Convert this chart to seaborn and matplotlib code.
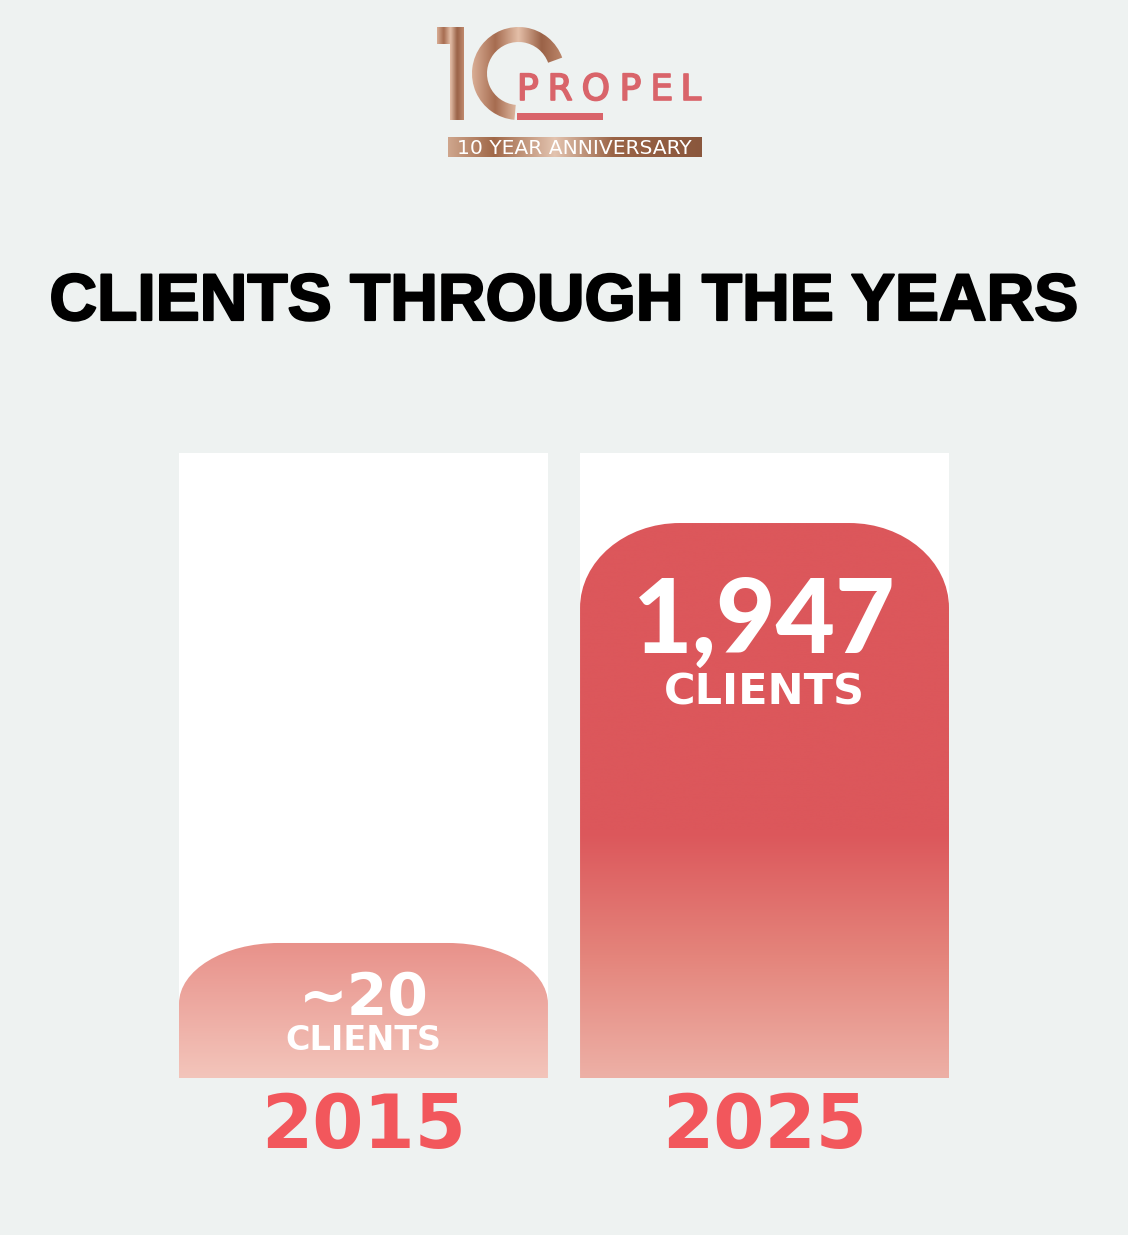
import numpy as np
import pandas as pd
import matplotlib
matplotlib.use("Agg")
import matplotlib.pyplot as plt
import matplotlib.patheffects as pe
import seaborn as sns
from matplotlib.path import Path
from matplotlib.patches import PathPatch, Rectangle, Wedge, Polygon
from matplotlib.colors import LinearSegmentedColormap
from matplotlib.textpath import TextPath
from matplotlib.font_manager import FontProperties

# chart data
years = ["2015", "2025"]
clients = [20, 1947]
value_labels = ["~20", "1,947"]
unit_label = "CLIENTS"
title = "CLIENTS THROUGH THE YEARS"

# per-bar label styling (small bar gets smaller text)
num_size = [42, 74]
num_family = [["DejaVu Sans"], ["Lato", "DejaVu Sans"]]
unit_size = [24, 31]
num_offset = [72, 130]
unit_offset = [107, 181]

W, H = 1128, 1235
BG = "#EEF2F1"
YEAR_RED = "#F2575C"
LOGO_RED = "#D9646A"

sns.set_theme(style="white")
plt.rcParams["font.family"] = ["DejaVu Sans"]

fig = plt.figure(figsize=(W / 100, H / 100), dpi=100)
fig.patch.set_facecolor(BG)

# main bar axes, log scale so ~20 and 1,947 both stay visible
ax = fig.add_axes([179 / W, (H - 1078) / H, 770 / W, 625 / H])
ax.set_yscale("log")
df = pd.DataFrame({"year": years, "clients": clients})
sns.barplot(data=df, x="year", y="clients", order=years, width=0.92,
            color="#DC575B", errorbar=None, ax=ax)
ax.set_xlim(-0.46, 1.46)
ax.set_ylim(4.59, 4177)
ax.set_axis_off()
fig.canvas.draw()

ax_bb = ax.get_window_extent()
col_top = H - ax_bb.y1
col_bot = H - ax_bb.y0
bars = []
for p in ax.patches:
    bb = p.get_window_extent()
    bars.append((bb.x0, bb.x1, H - bb.y1))
    p.set_visible(False)

# overlay in pixel coords (y down) for the styled shapes
ov = fig.add_axes([0, 0, 1, 1], zorder=5)
ov.patch.set_alpha(0)


def grad_fill(x0, x1, yt, yb, cmap, clip, horizontal=False):
    g = np.linspace(0, 1, 256)
    g = g.reshape(1, -1) if horizontal else g.reshape(-1, 1)
    im = ov.imshow(g, cmap=cmap, aspect="auto", extent=(x0, x1, yb, yt),
                   origin="upper", interpolation="bicubic", zorder=3)
    im.set_clip_path(clip)


def top_rounded(x0, x1, yt, yb, rx, ry):
    k = 0.5523
    verts = [(x0, yb), (x0, yt + ry),
             (x0, yt + ry - k * ry), (x0 + rx - k * rx, yt), (x0 + rx, yt),
             (x1 - rx, yt),
             (x1 - rx + k * rx, yt), (x1, yt + ry - k * ry), (x1, yt + ry),
             (x1, yb), (x0, yb)]
    codes = [Path.MOVETO, Path.LINETO,
             Path.CURVE4, Path.CURVE4, Path.CURVE4,
             Path.LINETO,
             Path.CURVE4, Path.CURVE4, Path.CURVE4,
             Path.LINETO, Path.CLOSEPOLY]
    return Path(verts, codes)


cmap_big = LinearSegmentedColormap.from_list(
    "big", [(0, "#DC575B"), (0.56, "#DC575B"), (0.78, "#E4847B"), (1, "#EDB0A6")])
cmap_small = LinearSegmentedColormap.from_list(
    "small", [(0, "#E8918A"), (1, "#F3C5BB")])

for i, (x0, x1, yt) in enumerate(bars):
    ov.add_patch(Rectangle((x0, col_top), x1 - x0, col_bot - col_top,
                           facecolor="white", edgecolor="none", zorder=1))
    h = col_bot - yt
    shape = PathPatch(top_rounded(x0, x1, yt, col_bot, 100, min(85, 0.45 * h)),
                      facecolor="none", edgecolor="none", transform=ov.transData)
    ov.add_patch(shape)
    cmap = cmap_big if clients[i] == max(clients) else cmap_small
    grad_fill(x0, x1, yt, col_bot, cmap, shape)

    cx = (x0 + x1) / 2
    ov.text(cx, yt + num_offset[i], value_labels[i], color="white",
            fontsize=num_size[i], fontweight="black", family=num_family[i],
            ha="center", va="baseline", zorder=6)
    ov.text(cx, yt + unit_offset[i], unit_label, color="white",
            fontsize=unit_size[i], fontweight="bold", ha="center",
            va="baseline", zorder=6)
    ov.text(cx, 1148, years[i], color=YEAR_RED, fontsize=53,
            fontweight="bold", ha="center", va="baseline", zorder=6)

# title
ov.text(W / 2, 320, title, color="black", fontsize=47.5, fontweight="bold",
        family=["Liberation Sans", "DejaVu Sans"], ha="center", va="baseline",
        path_effects=[pe.withStroke(linewidth=1.6, foreground="black")])

# logo
copper = LinearSegmentedColormap.from_list(
    "copper", ["#D9AE95", "#A66C50", "#E4BFA8", "#9A6247", "#C08A6E"])
one = Polygon([(437, 27), (464, 27), (464, 120), (450, 120), (450, 44), (437, 44)],
              closed=True, facecolor="none", edgecolor="none", transform=ov.transData)
ov.add_patch(one)
grad_fill(437, 464, 27, 120, copper, one, horizontal=True)
zero = Wedge((518.5, 73.5), 46.5, 95, 340, width=15, facecolor="none",
             edgecolor="none", transform=ov.transData)
ov.add_patch(zero)
grad_fill(472, 565, 27, 120, copper, zero, horizontal=True)

# PROPEL with tracking across its width
prop = FontProperties(family=["DejaVu Sans"], weight="normal", size=26)
word = "PROPEL"
fs_px = 26 * 100 / 72
widths = [TextPath((0, 0), ch, size=fs_px, prop=prop).get_extents().width for ch in word]
gap = (697 - 517 - sum(widths)) / (len(word) - 1)
xx = 517
for ch, w in zip(word, widths):
    ov.text(xx, 100, ch, color=LOGO_RED, fontproperties=prop, ha="left", va="baseline",
            path_effects=[pe.withStroke(linewidth=1.2, foreground=LOGO_RED)])
    xx += w + gap
ov.add_patch(Rectangle((517, 113), 86, 7, facecolor=LOGO_RED, edgecolor="none"))

band = Rectangle((448, 137), 254, 20, facecolor="none", edgecolor="none",
                 transform=ov.transData)
ov.add_patch(band)
band_cmap = LinearSegmentedColormap.from_list(
    "band", [(0, "#CFA68D"), (0.18, "#A06848"), (0.42, "#E3C4B0"),
             (0.65, "#9A6446"), (1, "#8A573D")])
grad_fill(448, 702, 137, 157, band_cmap, band, horizontal=True)
ov.text(574, 153.5, "10 YEAR ANNIVERSARY", color="white", fontsize=14.6,
        ha="center", va="baseline", zorder=6)

ov.set_xlim(0, W)
ov.set_ylim(H, 0)
ov.set_axis_off()

fig.savefig("out.png", dpi=100, facecolor=BG)
